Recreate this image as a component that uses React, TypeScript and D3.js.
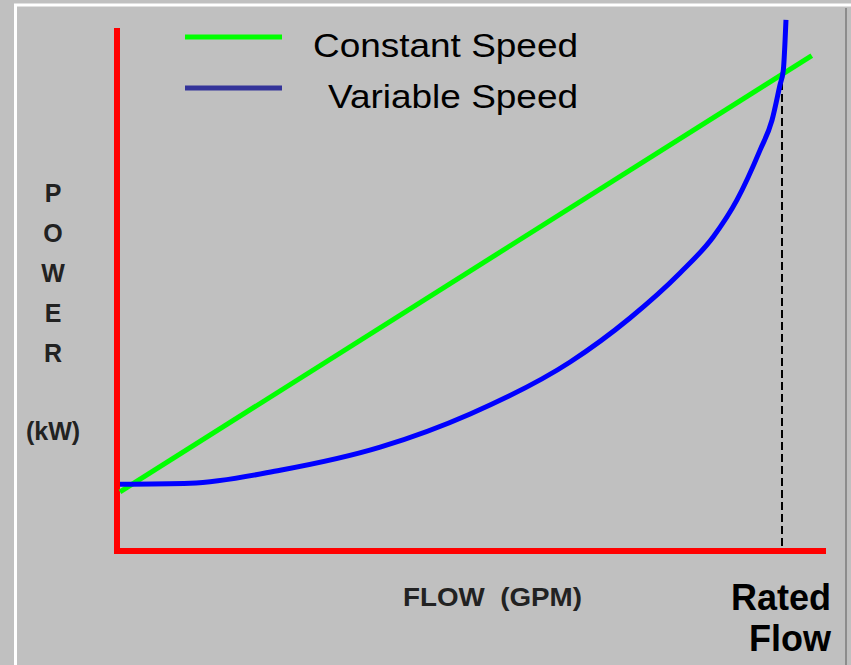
import React, { useEffect, useRef } from "react";
import * as d3 from "d3";

// % of rated flow vs % of rated power
const constantFlow = [0, 104.5];
const constantPower = [12.3, 103];

const variableFlow = [0, 10.6, 24.2, 39.3, 52.9, 68, 77, 84.6, 89.6, 93.2, 96.7, 98.5, 99.7, 100.2, 100.6];
const variablePower = [13.9, 14.1, 16.8, 21.6, 28.5, 39.3, 48.4, 57.8, 65.3, 73, 83.4, 89.6, 96.9, 100, 110.4];

const ratedFlow = 100;
const ratedPower = 100;

const legendLabels = ["Constant Speed", "Variable Speed"];
const yLetters = ["P", "O", "W", "E", "R"];

const App = () => {
  const svgRef = useRef<SVGSVGElement>(null);

  useEffect(() => {
    const width = 851;
    const height = 665;
    const font = "'Liberation Sans', Arial, sans-serif";

    const svg = d3.select(svgRef.current);
    svg.selectAll("*").remove();
    svg.attr("width", width).attr("height", height);

    const x = d3.scaleLinear().domain([0, 100]).range([120, 782]);
    const y = d3.scaleLinear().domain([0, 100]).range([551, 70]);

    // frame
    svg.append("rect").attr("width", width).attr("height", height).attr("fill", "#c0c0c0");
    svg.append("line").attr("x1", 14).attr("x2", width).attr("y1", 5).attr("y2", 5)
      .attr("stroke", "#ffffff").attr("stroke-width", 3);
    svg.append("line").attr("x1", 15.5).attr("x2", 15.5).attr("y1", 4).attr("y2", height)
      .attr("stroke", "#ffffff").attr("stroke-width", 3);
    svg.append("line").attr("x1", 846).attr("x2", 846).attr("y1", 8).attr("y2", height)
      .attr("stroke", "#8c8c8c").attr("stroke-width", 2);

    // rated flow marker
    svg.append("line")
      .attr("x1", x(ratedFlow)).attr("x2", x(ratedFlow))
      .attr("y1", y(ratedPower)).attr("y2", y(0) - 3)
      .attr("stroke", "#000").attr("stroke-width", 2)
      .attr("stroke-dasharray", "8,4");

    // axes
    svg.append("path")
      .attr("d", `M${x(0) - 3},28 V${y(0)} H826`)
      .attr("fill", "none").attr("stroke", "#ff0000")
      .attr("stroke-width", 6).attr("stroke-linejoin", "miter");

    const line = d3.line<[number, number]>()
      .x((d) => x(d[0]))
      .y((d) => y(d[1]));

    svg.append("path")
      .datum(constantFlow.map((f, i) => [f, constantPower[i]] as [number, number]))
      .attr("d", line)
      .attr("fill", "none").attr("stroke", "#00ff00").attr("stroke-width", 5);

    svg.append("path")
      .datum(variableFlow.map((f, i) => [f, variablePower[i]] as [number, number]))
      .attr("d", line.curve(d3.curveMonotoneX))
      .attr("fill", "none").attr("stroke", "#0000ff").attr("stroke-width", 5)
      .attr("stroke-linejoin", "round");

    // legend
    const legendColors = ["#00ff00", "#333399"];
    const legendX = [313, 328];
    const legendW = [265, 250];
    legendLabels.forEach((label, i) => {
      const ly = 37 + i * 51;
      svg.append("line").attr("x1", 185).attr("x2", 282).attr("y1", ly).attr("y2", ly)
        .attr("stroke", legendColors[i]).attr("stroke-width", 5);
      svg.append("text")
        .attr("x", legendX[i]).attr("y", ly + 20)
        .attr("textLength", legendW[i]).attr("lengthAdjust", "spacingAndGlyphs")
        .attr("font-family", font).attr("font-size", 34)
        .attr("fill", "#000")
        .text(label);
    });

    // y label
    yLetters.forEach((ch, i) => {
      svg.append("text")
        .attr("x", 53).attr("y", 202 + i * 40)
        .attr("text-anchor", "middle")
        .attr("font-family", font).attr("font-size", 25).attr("font-weight", "bold")
        .attr("fill", "#222")
        .text(ch);
    });
    svg.append("text")
      .attr("x", 53).attr("y", 440)
      .attr("text-anchor", "middle")
      .attr("font-family", font).attr("font-size", 25).attr("font-weight", "bold")
      .attr("fill", "#222")
      .text("(kW)");

    // x label
    svg.append("text")
      .attr("x", 403).attr("y", 606)
      .attr("textLength", 179).attr("lengthAdjust", "spacingAndGlyphs")
      .attr("font-family", font).attr("font-size", 26).attr("font-weight", "bold")
      .attr("fill", "#222")
      .attr("xml:space", "preserve")
      .style("white-space", "pre")
      .text("FLOW  (GPM)");

    ["Rated", "Flow"].forEach((t, i) => {
      svg.append("text")
        .attr("x", 831).attr("y", 610 + i * 41)
        .attr("text-anchor", "end")
        .attr("font-family", font).attr("font-size", 36).attr("font-weight", "bold")
        .attr("fill", "#000")
        .text(t);
    });
  }, []);

  return (
    <svg
      ref={svgRef}
      style={{ position: "absolute", left: 0, top: 0, display: "block" }}
    ></svg>
  );
};

export default App;
